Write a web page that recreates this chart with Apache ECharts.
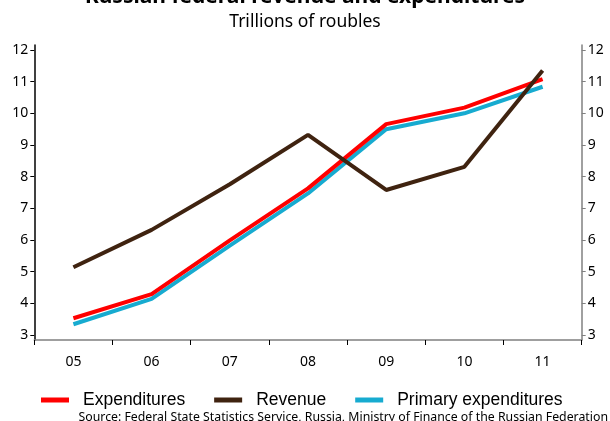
<!DOCTYPE html>
<html>
<head>
<meta charset="utf-8">
<script src="https://cdn.jsdelivr.net/npm/echarts@6/dist/echarts.min.js"></script>
<style>
  html, body { margin: 0; padding: 0; background: #fff; }
  #chart { width: 610px; height: 421px; }
</style>
</head>
<body>
<div id="chart"></div>
<script>
// Russian federal budget, trillions of roubles, 2005-2011
const years = ['05', '06', '07', '08', '09', '10', '11'];
const expenditures = [3.53, 4.29, 5.99, 7.63, 9.66, 10.18, 11.08];
const revenue = [5.14, 6.32, 7.76, 9.32, 7.58, 8.31, 11.35];
const primaryExpenditures = [3.34, 4.14, 5.82, 7.47, 9.50, 10.00, 10.84];
const yTicks = [3, 4, 5, 6, 7, 8, 9, 10, 11, 12];

const labelFont = '"Noto Sans", "DejaVu Sans", sans-serif';

const chart = echarts.init(document.getElementById('chart'), null, { renderer: 'canvas' });

function valueAxis(position, lineColor) {
  return {
    type: 'value',
    position: position,
    min: 2.842,
    max: 12.158,
    splitLine: { show: false },
    axisLine: { show: true, lineStyle: { color: lineColor, width: 1.5 } },
    axisTick: { show: true, inside: false, length: 4, customValues: yTicks, lineStyle: { color: lineColor } },
    axisLabel: {
      customValues: yTicks,
      color: '#000',
      fontSize: 14,
      fontFamily: labelFont,
      margin: 6
    }
  };
}

chart.setOption({
  animation: false,
  backgroundColor: '#fff',
  title: [
    {
      text: 'Russian federal revenue and expenditures',
      left: 'center',
      top: -18,
      textStyle: { fontSize: 21, fontWeight: 'bold', color: '#000', fontFamily: labelFont }
    },
    {
      text: 'Trillions of roubles',
      left: 'center',
      top: 8,
      textStyle: { fontSize: 17.5, fontWeight: 'normal', color: '#000', fontFamily: labelFont }
    }
  ],
  legend: {
    top: 386,
    left: 36,
    itemWidth: 28,
    itemHeight: 5,
    itemGap: 29,
    icon: 'rect',
    textStyle: {
      fontSize: 17.5,
      color: '#000',
      fontFamily: '"Liberation Sans", Arial, sans-serif',
      padding: [0, 0, 0, 9]
    },
    data: ['Expenditures', 'Revenue', 'Primary expenditures']
  },
  grid: { left: 34.3, right: 28.3, top: 45, bottom: 81 },
  xAxis: {
    type: 'category',
    data: years,
    boundaryGap: true,
    axisLine: { lineStyle: { color: '#808080', width: 1.5 } },
    axisTick: { show: true, length: 5, alignWithLabel: false, lineStyle: { color: '#000' } },
    axisLabel: { color: '#000', fontSize: 14, fontFamily: labelFont, margin: 15 }
  },
  yAxis: [valueAxis('left', '#000'), valueAxis('right', '#808080')],
  graphic: [
    {
      type: 'text',
      right: 2,
      top: 411,
      style: {
        text: 'Source: Federal State Statistics Service, Russia, Ministry of Finance of the Russian Federation',
        fill: '#000',
        font: '12.3px "Noto Sans", "DejaVu Sans", sans-serif'
      }
    }
  ],
  series: [
    {
      name: 'Expenditures',
      type: 'line',
      data: expenditures,
      symbol: 'none',
      lineStyle: { color: '#ff0000', width: 4 },
      itemStyle: { color: '#ff0000' },
      z: 3
    },
    {
      name: 'Revenue',
      type: 'line',
      data: revenue,
      symbol: 'none',
      lineStyle: { color: '#3f2310', width: 4 },
      itemStyle: { color: '#3f2310' },
      z: 4
    },
    {
      name: 'Primary expenditures',
      type: 'line',
      data: primaryExpenditures,
      symbol: 'none',
      lineStyle: { color: '#17abd0', width: 4 },
      itemStyle: { color: '#17abd0' },
      z: 2
    }
  ]
});
</script>
</body>
</html>
